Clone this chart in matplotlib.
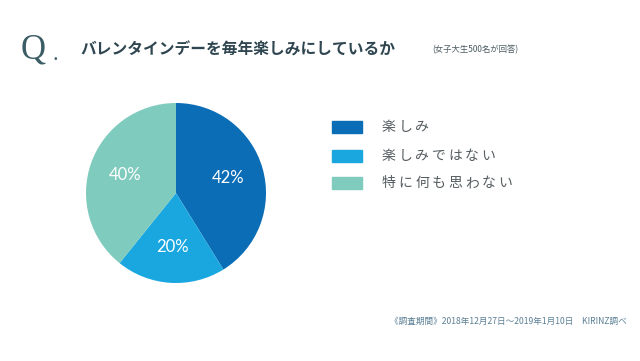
import matplotlib
matplotlib.use('Agg')
import matplotlib.pyplot as plt
from matplotlib.patches import Rectangle

plt.rcParams['font.family'] = ['Noto Sans CJK JP', 'DejaVu Sans']

# データ
categories = ['楽しみ', '楽しみではない', '特に何も思わない']
values = [42, 20, 40]
colors = ['#0b6db6', '#1aa7e0', '#7fcbbe']
title = 'バレンタインデーを毎年楽しみにしているか'
note = '(女子大生500名が回答)'
source = '《調査期間》2018年12月27日〜2019年1月10日　KIRINZ調べ'

W, H = 640, 361
fig = plt.figure(figsize=(W / 100, H / 100), dpi=100)
fig.patch.set_facecolor('white')

# 円グラフ
ax = fig.add_axes([86 / W, (H - 283) / H, 180 / W, 180 / H])
wedges, texts = ax.pie(values, colors=colors, startangle=90, counterclock=False,
                       labels=[f'{v}%' for v in values], labeldistance=0.6,
                       wedgeprops=dict(linewidth=0))
for t in texts:
    t.set_color('white')
    t.set_fontsize(12)
    t.set_family(['Lato', 'DejaVu Sans'])
    t.set_ha('center')
    t.set_va('center')
ax.set_xlim(-1, 1)
ax.set_ylim(-1, 1)
ax.set_aspect('equal')

# タイトル
fig.text(21 / W, 1 - 50 / H, 'Q', fontsize=25, family=['Liberation Serif'],
         color='#3b5d66', va='center')
fig.text(53 / W, 1 - 55 / H, '.', fontsize=16, family=['Liberation Serif'],
         color='#3b5d66', va='center')
fig.text(80 / W, 1 - 50 / H, title, fontsize=11.3, fontweight='bold',
         color='#2f4650', va='center')
fig.text(432 / W, 1 - 50 / H, note, fontsize=6, color='#4a5a60', va='center')

# 凡例
ys = [127, 156, 183]
for cat, c, y in zip(categories, colors, ys):
    fig.patches.append(Rectangle((332 / W, 1 - (y + 6) / H), 30 / W, 12 / H,
                                 transform=fig.transFigure, color=c))
    for i, ch in enumerate(cat):
        fig.text((382 + i * 16.6) / W, 1 - y / H, ch, fontsize=10,
                 color='#555d60', va='center')

# 出典
fig.text(390 / W, 1 - 321 / H, source, fontsize=6.2, color='#5a7f95', va='center')

fig.savefig('out.png', dpi=100)
